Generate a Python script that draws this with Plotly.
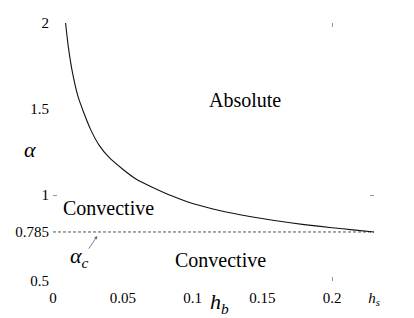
import plotly.graph_objects as go

# ---- data ----
h_b = [0.009, 0.011, 0.014, 0.018, 0.022, 0.027, 0.033, 0.040, 0.050, 0.060,
       0.070, 0.085, 0.100, 0.120, 0.140, 0.160, 0.180, 0.200, 0.215, 0.230]
alpha = [2.0, 1.86, 1.71, 1.57, 1.48, 1.38, 1.29, 1.22, 1.15, 1.09,
         1.05, 0.995, 0.95, 0.908, 0.876, 0.85, 0.828, 0.81, 0.797, 0.785]

h_s = 0.23
alpha_c = 0.785

x_tickvals = [0, 0.05, 0.1, 0.15, 0.2, 0.23]
x_ticktext = ["0", "0.05", "0.1", "0.15", "0.2", "<i>h</i><sub><i>s</i></sub>"]
y_tickvals = [0.5, 0.785, 1, 1.5, 2]
y_ticktext = ["0.5", "0.785", "1", "1.5", "2"]

region_labels = ["Absolute", "Convective", "Convective"]
region_x = [0.1376, 0.040, 0.1197]
region_y = [1.551, 0.923, 0.622]

SERIF = "'Liberation Serif', 'DejaVu Serif', serif"

fig = go.Figure()

fig.add_trace(go.Scatter(
    x=[0, h_s], y=[alpha_c, alpha_c], mode="lines",
    line=dict(color="#555555", width=1, dash="3px,2px"),
    hoverinfo="skip", showlegend=False))

fig.add_trace(go.Scatter(
    x=h_b, y=alpha, mode="lines",
    line=dict(color="#111111", width=1.1, shape="spline", smoothing=0.6),
    showlegend=False))

# overlay axes carrying the few stray tick marks
fig.add_trace(go.Scatter(x=[None], y=[None], xaxis="x2", yaxis="y2",
                         showlegend=False, hoverinfo="skip"))

for t, x, y in zip(region_labels, region_x, region_y):
    fig.add_annotation(x=x, y=y, text=t, showarrow=False,
                       font=dict(family=SERIF, size=20, color="black"))

# axis titles (outside the plotting range -> paper coordinates)
fig.add_annotation(x=-0.0726, y=0.51, xref="paper", yref="paper",
                   xanchor="center", yanchor="middle",
                   text="<i>α</i>", showarrow=False,
                   font=dict(family=SERIF, size=22, color="black"))
fig.add_annotation(x=0.52, y=-0.085, xref="paper", yref="paper",
                   xanchor="center", yanchor="middle",
                   text="<i>h</i><sub><i>b</i></sub>", showarrow=False,
                   font=dict(family=SERIF, size=22, color="black"))

# alpha_c label with arrow
fig.add_annotation(x=0.0192, y=0.641, text="<i>α</i><sub><i>c</i></sub>", showarrow=False,
                   font=dict(family=SERIF, size=22, color="black"))
fig.add_annotation(x=0.0317, y=0.762, ax=0.0249, ay=0.679, axref="x", ayref="y",
                   xref="x", yref="y", text="", showarrow=True,
                   arrowhead=2, arrowsize=0.8, arrowwidth=0.8, arrowcolor="#666666")

fig.update_layout(
    width=414, height=318,
    margin=dict(l=53, r=40, t=23, b=37, autoexpand=False),
    paper_bgcolor="white", plot_bgcolor="white",
    font=dict(family=SERIF),
    xaxis=dict(range=[0, h_s], tickvals=x_tickvals, ticktext=x_ticktext,
               showgrid=False, zeroline=False, showline=False, ticks="",
               automargin=False, ticklabelstandoff=6,
               tickfont=dict(family=SERIF, size=15, color="black")),
    yaxis=dict(range=[0.5, 2], tickvals=y_tickvals, ticktext=y_ticktext,
               showgrid=False, zeroline=False, showline=False, ticks="",
               automargin=False, ticklabelstandoff=3,
               tickfont=dict(family=SERIF, size=15, color="black")),
    xaxis2=dict(range=[0, h_s], overlaying="x", anchor="y", tickvals=[0.2],
                ticks="inside", ticklen=4, tickcolor="#999999", mirror="ticks",
                automargin=False,
                showticklabels=False, showgrid=False, zeroline=False, showline=False),
    yaxis2=dict(range=[0.5, 2], overlaying="y", anchor="x", tickvals=[1],
                ticks="inside", ticklen=4, tickcolor="#999999", mirror="ticks",
                automargin=False,
                showticklabels=False, showgrid=False, zeroline=False, showline=False),
)

fig.write_html("out.html", config={"displayModeBar": False},
               post_script="document.body.style.margin='0';")
